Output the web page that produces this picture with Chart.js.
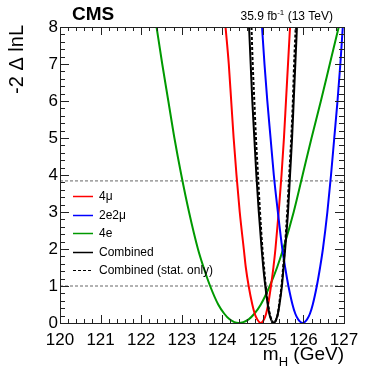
<!DOCTYPE html>
<html>
<head>
<meta charset="utf-8">
<script src="https://cdn.jsdelivr.net/npm/chart.js@4.4.0/dist/chart.umd.min.js"></script>
<style>
html, body { margin: 0; padding: 0; background: #fff; }
#wrap { width: 382px; height: 373px; }
</style>
</head>
<body>
<div id="wrap"><canvas id="scanChart" width="382" height="373"></canvas></div>
<script>
const scanLevels = [8, 7, 6, 5, 4, 3, 2, 1.5, 1, 0.5, 0.25, 0.1, 0];

// m_H (GeV) where each curve crosses those levels, left and right branch
const mu4Left    = [124.08, 124.16, 124.22, 124.28, 124.35, 124.43, 124.53, 124.58, 124.65, 124.74, 124.80, 124.86, 124.95];
const mu4Right   = [125.67, 125.62, 125.57, 125.52, 125.46, 125.39, 125.31, 125.26, 125.20, 125.13, 125.08, 125.03, 124.95];
const e2mu2Left  = [124.98, 125.04, 125.11, 125.19, 125.27, 125.37, 125.48, 125.55, 125.63, 125.73, 125.80, 125.87, 125.98];
const e2mu2Right = [126.97, 126.91, 126.84, 126.76, 126.68, 126.59, 126.48, 126.41, 126.33, 126.23, 126.16, 126.09, 125.98];
const e4Left     = [122.38, 122.52, 122.67, 122.82, 122.99, 123.18, 123.40, 123.54, 123.70, 123.90, 124.05, 124.18, 124.40];
const e4Right    = [126.87, 126.65, 126.43, 126.20, 125.98, 125.76, 125.50, 125.35, 125.17, 124.95, 124.79, 124.65, 124.40];
const combLeft   = [124.66, 124.70, 124.74, 124.79, 124.84, 124.90, 124.97, 125.01, 125.06, 125.12, 125.16, 125.20, 125.27];
const combRight  = [125.84, 125.80, 125.76, 125.72, 125.67, 125.62, 125.55, 125.51, 125.47, 125.41, 125.37, 125.33, 125.27];
const statLeft   = [124.72, 124.75, 124.79, 124.83, 124.88, 124.93, 124.99, 125.03, 125.07, 125.13, 125.17, 125.21, 125.27];
const statRight  = [125.81, 125.77, 125.74, 125.70, 125.65, 125.60, 125.54, 125.50, 125.46, 125.40, 125.37, 125.33, 125.27];

// 68% and 95% CL reference lines
const thresholdLevels = [1, 3.84];
const massRange = [120, 127];

function scanPoints(left, right) {
    const pts = left.map((x, i) => ({ x: x, y: scanLevels[i] }));
    for (let i = right.length - 2; i >= 0; i--) {
        pts.push({ x: right[i], y: scanLevels[i] });
    }
    return pts;
}

function scanSet(label, left, right, color, dash, order) {
    return {
        label: label,
        data: scanPoints(left, right),
        borderColor: color,
        borderWidth: 2,
        borderDash: dash,
        pointRadius: 0,
        fill: false,
        cubicInterpolationMode: 'monotone',
        order: order,
        inLegend: true
    };
}

const datasets = [
    scanSet('4\u03bc', mu4Left, mu4Right, '#ff0000', [], 5),
    scanSet('2e2\u03bc', e2mu2Left, e2mu2Right, '#0000ff', [], 4),
    scanSet('4e', e4Left, e4Right, '#009900', [], 6),
    scanSet('Combined', combLeft, combRight, '#000000', [], 2),
    scanSet('Combined (stat. only)', statLeft, statRight, '#000000', [3, 2], 1)
];

thresholdLevels.forEach(level => {
    datasets.push({
        label: 'CL ' + level,
        data: massRange.map(m => ({ x: m, y: level })),
        borderColor: '#666666',
        borderWidth: 1,
        borderDash: [3, 2],
        pointRadius: 0,
        fill: false,
        order: 10,
        inLegend: false
    });
});

const FONT = '"Liberation Sans", Arial, Helvetica, sans-serif';

// ROOT style frame with inward ticks, plus the texts
const rootStyle = {
    id: 'rootStyle',
    afterDatasetsDraw(chart) {
        const c = chart.ctx;
        const a = chart.chartArea;
        const xs = chart.scales.x;
        const ys = chart.scales.y;
        c.save();
        c.strokeStyle = '#222';
        c.lineWidth = 1;
        c.setLineDash([]);
        c.beginPath();
        for (let i = 0; i <= 35; i++) {
            const v = 120 + i * 0.2;
            const px = Math.round(xs.getPixelForValue(v)) + 0.5;
            const len = i % 5 === 0 ? 8 : 4;
            c.moveTo(px, a.bottom); c.lineTo(px, a.bottom - len);
            c.moveTo(px, a.top); c.lineTo(px, a.top + len);
        }
        for (let i = 0; i <= 40; i++) {
            const v = i * 0.2;
            const py = Math.round(ys.getPixelForValue(v)) + 0.5;
            const len = i % 5 === 0 ? 9 : 5;
            c.moveTo(a.left, py); c.lineTo(a.left + len, py);
            c.moveTo(a.right, py); c.lineTo(a.right - len, py);
        }
        c.stroke();
        c.strokeRect(Math.round(a.left) + 0.5, Math.round(a.top) + 0.5,
                     Math.round(a.right - a.left), Math.round(a.bottom - a.top));
        c.restore();
    },
    afterDraw(chart) {
        const c = chart.ctx;
        const a = chart.chartArea;
        c.save();
        c.fillStyle = '#000';
        c.textBaseline = 'alphabetic';

        // CMS label and luminosity
        c.font = 'bold 19px ' + FONT;
        c.textAlign = 'left';
        c.fillText('CMS', 72, 20);

        c.font = '12px ' + FONT;
        const part1 = '35.9 fb', sup = '-1', part2 = ' (13 TeV)';
        c.font = '12px ' + FONT;
        const w1 = c.measureText(part1).width, w3 = c.measureText(part2).width;
        c.font = '8px ' + FONT;
        const w2 = c.measureText(sup).width;
        let x0 = 333 - (w1 + w2 + w3);
        c.font = '12px ' + FONT;
        c.fillText(part1, x0, 20);
        c.font = '8px ' + FONT;
        c.fillText(sup, x0 + w1, 15);
        c.font = '12px ' + FONT;
        c.fillText(part2, x0 + w1 + w2, 20);

        // x title m_H (GeV)
        c.font = '19px ' + FONT;
        const tm = c.measureText('m').width, tg = c.measureText(' (GeV)').width;
        c.font = '13px ' + FONT;
        const th = c.measureText('H').width;
        x0 = a.right - (tm + th + tg);
        c.font = '19px ' + FONT;
        c.fillText('m', x0, 360);
        c.font = '13px ' + FONT;
        c.fillText('H', x0 + tm, 366);
        c.font = '19px ' + FONT;
        c.fillText(' (GeV)', x0 + tm + th, 360);

        // y title
        c.save();
        c.translate(23, 25);
        c.rotate(-Math.PI / 2);
        c.textAlign = 'right';
        c.font = '20px ' + FONT;
        c.fillText('-2 \u0394 lnL', 0, 0);
        c.restore();

        // legend
        c.font = '12px ' + FONT;
        c.textAlign = 'left';
        c.textBaseline = 'middle';
        let row = 0;
        chart.data.datasets.forEach(ds => {
            if (!ds.inLegend) return;
            const y = Math.round(196 + row * 18.5) + 0.5;
            c.strokeStyle = ds.borderColor;
            c.lineWidth = ds.borderDash.length ? 1 : 1.5;
            c.setLineDash(ds.borderDash);
            c.beginPath();
            c.moveTo(73, y); c.lineTo(93, y);
            c.stroke();
            c.fillText(ds.label, 99, y);
            row++;
        });
        c.restore();
    }
};

const ctx = document.getElementById('scanChart').getContext('2d');
const chart = new Chart(ctx, {
    type: 'line',
    data: { datasets: datasets },
    options: {
        responsive: false,
        animation: false,
        devicePixelRatio: 1,
        layout: { padding: { top: 27, right: 38, left: 0, bottom: 0 } },
        plugins: {
            legend: { display: false },
            tooltip: { enabled: false }
        },
        scales: {
            x: {
                type: 'linear',
                min: massRange[0],
                max: massRange[1],
                grid: { display: false, drawTicks: false },
                border: { display: false },
                ticks: {
                    stepSize: 1,
                    autoSkip: false,
                    maxRotation: 0,
                    padding: 7,
                    color: '#000',
                    font: { family: FONT, size: 17 }
                },
                afterFit(scale) { scale.height = 50; }
            },
            y: {
                min: 0,
                max: 8,
                grid: { display: false, drawTicks: false },
                border: { display: false },
                ticks: {
                    stepSize: 1,
                    padding: 2,
                    color: '#000',
                    font: { family: FONT, size: 17 }
                },
                afterFit(scale) { scale.width = 60; }
            }
        }
    },
    plugins: [rootStyle]
});
</script>
</body>
</html>
